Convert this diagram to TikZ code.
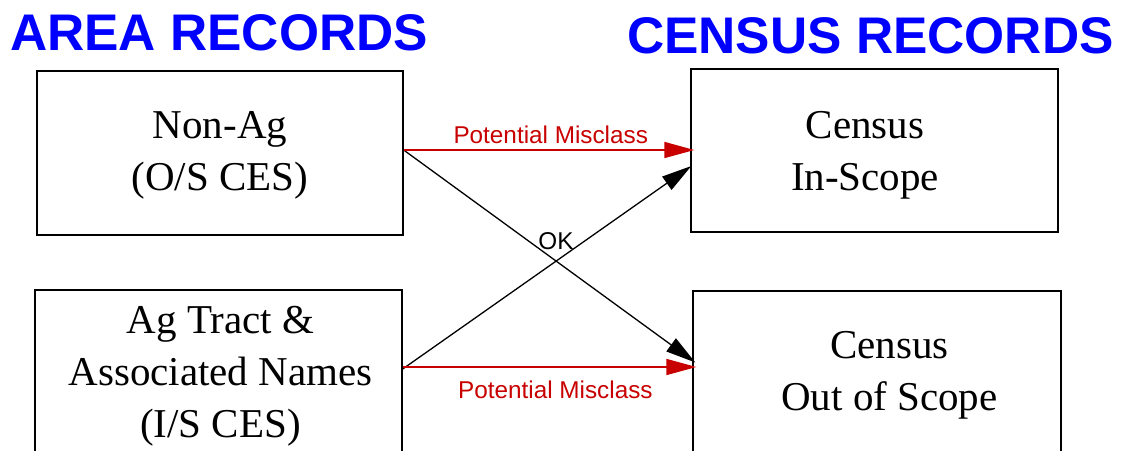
\documentclass[tikz,border=0pt]{standalone}
\usepackage{fontspec}
\setmainfont{Liberation Serif}
\newfontfamily\sansfont{Liberation Sans}
\usetikzlibrary{arrows.meta}
\definecolor{headblue}{RGB}{0,0,255}
\definecolor{misred}{RGB}{200,0,0}
\tikzset{
  recbox/.style={draw=black, line width=1.3pt, rectangle, inner sep=0pt},
  boxtext/.style={align=center, inner sep=0pt, font=\fontsize{41}{52}\selectfont},
  heading/.style={anchor=base west, inner sep=0pt, text=headblue,
    font=\sansfont\bfseries\fontsize{51.5}{60}\selectfont},
  flowtip/.style={-{Triangle[length=30pt,width=16pt]}},
  misarrow/.style={flowtip, draw=misred, line width=1.5pt},
  okarrow/.style={flowtip, draw=black, line width=1.3pt},
  arrowlabel/.style={inner sep=0pt, font=\sansfont\fontsize{24.3}{28}\selectfont},
}
\begin{document}
\begin{tikzpicture}[x=1pt, y=-1pt]
  \useasboundingbox (0,0) rectangle (1121,450);
  \clip (0,0) rectangle (1121,450);

  % column headings
  \node[heading] (areahead) at (10,50) {AREA RECORDS};
  \node[heading] (censushead) at (627,53) {CENSUS RECORDS};

  % record boxes
  \node[recbox, minimum width=366pt, minimum height=164pt] (nonag) at (220,153) {};
  \node[recbox, minimum width=367pt, minimum height=168pt] (agtract) at (218.5,374) {};
  \node[recbox, minimum width=367pt, minimum height=163pt] (inscope) at (874.5,150.5) {};
  \node[recbox, minimum width=368pt, minimum height=163pt] (outscope) at (877,372.5) {};

  % box contents
  \node[boxtext] (nonagtext) at ([yshift=-2pt]nonag.center) {Non-Ag\\(O/S CES)};
  \node[boxtext] (agtracttext) at ([xshift=2pt,yshift=-2pt]agtract.center)
    {Ag Tract \&\\Associated Names\\(I/S CES)};
  \node[boxtext] (inscopetext) at ([xshift=-9.5pt,yshift=-5pt]inscope.center)
    {Census\\In-Scope};
  \node[boxtext] (outscopetext) at ([xshift=12.5pt,yshift=-3pt]outscope.center)
    {Census\\Out of Scope};

  % connectors
  \draw[okarrow] ([yshift=3pt]nonag.east) -- ([xshift=3pt,yshift=10pt]outscope.west);
  \draw[okarrow] ([yshift=5pt]agtract.east) -- ([xshift=1pt,yshift=-15.5pt]inscope.west);
  \draw[misarrow] ([yshift=3pt]nonag.east) -- ([xshift=4pt]inscope.west |- 0,150)
    node[arrowlabel, text=misred, pos=0.506, above=6pt] (toplabel) {Potential Misclass};
  \draw[misarrow] ([yshift=7pt]agtract.east) -- ([xshift=4pt]outscope.west |- 0,367)
    node[arrowlabel, text=misred, pos=0.52, below=13pt] (botlabel) {Potential Misclass};
  \node[arrowlabel] (oklabel) at (556,241) {OK};
\end{tikzpicture}
\end{document}
